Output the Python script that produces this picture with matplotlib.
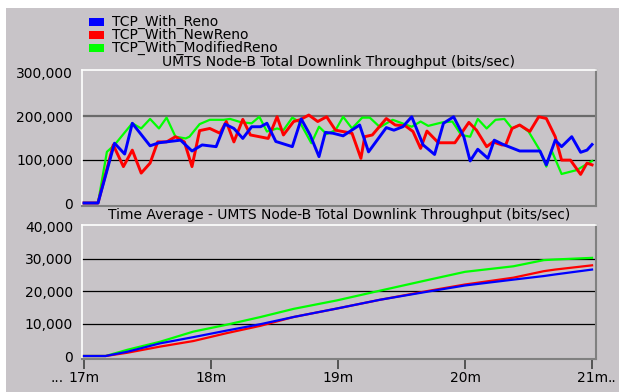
import matplotlib
matplotlib.use("Agg")
import matplotlib.pyplot as plt
from matplotlib.patches import Rectangle
from matplotlib.ticker import FuncFormatter

# series names and colours
names = ["TCP_With_Reno", "TCP_With_NewReno", "TCP_With_ModifiedReno"]
colors = ["#0000ff", "#ff0000", "#00ff00"]

# upper panel: throughput (bits/sec), time in minutes
reno_t = [17.00, 17.11, 17.24, 17.32, 17.38, 17.52, 17.59, 17.76, 17.85, 17.93,
          18.04, 18.11, 18.18, 18.25, 18.32, 18.39, 18.44, 18.51, 18.64, 18.71,
          18.78, 18.85, 18.90, 18.96, 19.04, 19.17, 19.24, 19.38, 19.44, 19.51,
          19.58, 19.67, 19.76, 19.83, 19.91, 19.99, 20.04, 20.10, 20.18, 20.23,
          20.30, 20.43, 20.59, 20.64, 20.71, 20.76, 20.84, 20.91, 20.96, 21.00]
reno_v = [0, 0, 138000, 113000, 184000, 132000, 139000, 145000, 120000, 134000,
          130000, 182000, 172000, 149000, 176000, 176000, 184000, 142000, 130000, 194000,
          157000, 107000, 163000, 161000, 155000, 180000, 118000, 174000, 168000, 176000,
          199000, 134000, 112000, 184000, 199000, 153000, 97000, 124000, 103000, 145000,
          135000, 120000, 120000, 88000, 145000, 130000, 153000, 117000, 122000, 135000]

newreno_t = [17.00, 17.11, 17.23, 17.31, 17.38, 17.45, 17.52, 17.58, 17.65, 17.72,
             17.79, 17.85, 17.91, 17.99, 18.07, 18.12, 18.18, 18.25, 18.31, 18.45,
             18.52, 18.57, 18.65, 18.70, 18.77, 18.84, 18.91, 18.98, 19.11, 19.18,
             19.21, 19.27, 19.38, 19.45, 19.53, 19.59, 19.65, 19.70, 19.79, 19.92,
             20.03, 20.09, 20.17, 20.22, 20.29, 20.32, 20.37, 20.43, 20.51, 20.58,
             20.64, 20.71, 20.76, 20.83, 20.91, 20.96, 21.00]
newreno_v = [0, 0, 134000, 84000, 122000, 69000, 92000, 141000, 141000, 153000,
             141000, 84000, 167000, 172000, 161000, 188000, 141000, 193000, 157000, 149000,
             199000, 157000, 188000, 192000, 203000, 188000, 199000, 168000, 161000, 103000,
             153000, 157000, 195000, 180000, 178000, 165000, 126000, 166000, 139000, 139000,
             186000, 168000, 130000, 141000, 134000, 134000, 172000, 180000, 165000, 199000,
             195000, 153000, 99000, 99000, 66000, 92000, 88000]

modreno_t = [17.00, 17.11, 17.18, 17.24, 17.38, 17.45, 17.52, 17.59, 17.65, 17.72,
             17.80, 17.83, 17.91, 17.99, 18.10, 18.15, 18.24, 18.32, 18.38, 18.44,
             18.52, 18.57, 18.64, 18.70, 18.79, 18.85, 18.91, 18.98, 19.04, 19.11,
             19.19, 19.25, 19.33, 19.43, 19.58, 19.65, 19.71, 19.82, 19.90, 19.97,
             20.04, 20.10, 20.17, 20.24, 20.31, 20.37, 20.43, 20.50, 20.58, 20.64,
             20.68, 20.76, 20.88, 21.00]
modreno_v = [0, 0, 118000, 134000, 184000, 172000, 194000, 172000, 197000, 153000,
             149000, 153000, 182000, 192000, 192000, 194000, 186000, 184000, 199000, 165000,
             172000, 168000, 197000, 186000, 138000, 176000, 159000, 168000, 199000, 172000,
             197000, 197000, 175000, 192000, 176000, 188000, 178000, 186000, 188000, 157000,
             153000, 194000, 172000, 192000, 194000, 172000, 180000, 165000, 126000, 84000,
             122000, 67000, 76000, 97000]

# lower panel: time average throughput (bits/sec)
avg_t = [17.00, 17.17, 17.34, 17.60, 17.86, 18.12, 18.39, 18.65, 18.99, 19.33,
         19.72, 20.00, 20.38, 20.62, 20.71, 21.00]
reno_avg = [0, 0, 1300, 3900, 5800, 7800, 9800, 12000, 14600, 17300,
            19900, 21700, 23500, 24600, 25100, 26600]
newreno_avg = [0, 0, 1000, 2900, 4600, 7000, 9300, 12000, 14600, 17300,
               20100, 22000, 24100, 26100, 26600, 27900]
modreno_avg = [0, 0, 1900, 4400, 7500, 9600, 12000, 14500, 17100, 20100,
               23500, 25900, 27600, 29500, 29700, 30200]

top_title = "UMTS Node-B Total Downlink Throughput (bits/sec)"
bottom_title = "Time Average - UMTS Node-B Total Downlink Throughput (bits/sec)"
x_ticks = [17, 18, 19, 20, 21]
x_labels = ["17m", "18m", "19m", "20m", "21m"]

BG = "#c8c4c8"
FS = 10
W, H = 619, 392

fig = plt.figure(figsize=(W / 100, H / 100), dpi=100, facecolor="white")
fig.patches.append(Rectangle((6 / W, 0), 1, (H - 8) / H, transform=fig.transFigure,
                             facecolor=BG, edgecolor="none", zorder=-10))


def style_axes(ax):
    ax.set_facecolor(BG)
    for side in ("left", "top"):
        ax.spines[side].set_color("white")
        ax.spines[side].set_linewidth(1.2)
    for side in ("right", "bottom"):
        ax.spines[side].set_color("#808080")
        ax.spines[side].set_linewidth(1.5)
    ax.tick_params(axis="y", length=0, pad=6.5, labelsize=FS, colors="black")
    ax.yaxis.set_major_formatter(FuncFormatter(lambda v, p: f"{v:,.0f}"))
    ax.set_xlim(16.984, 21.031)


ax1 = fig.add_axes([82 / W, (H - 206) / H, 514 / W, 136 / H])
style_axes(ax1)
ax1.set_ylim(-6923, 306923)
ax1.set_yticks([0, 100000, 200000, 300000])
ax1.set_xticks([])
ax1.axhline(200000, color="#6a6a6a", lw=1.6, zorder=1)
ax1.axhline(100000, color="black", lw=0.9, zorder=1)
ax1.plot(modreno_t, modreno_v, color=colors[2], lw=1.6, zorder=3)
ax1.plot(newreno_t, newreno_v, color=colors[1], lw=2.1, zorder=4)
ax1.plot(reno_t, reno_v, color=colors[0], lw=2.1, zorder=5)

ax2 = fig.add_axes([82 / W, (H - 359) / H, 514 / W, 134 / H])
style_axes(ax2)
ax2.set_ylim(-923, 40308)
ax2.set_yticks([0, 10000, 20000, 30000, 40000])
for g in (10000, 20000, 30000):
    ax2.axhline(g, color="black", lw=0.9, zorder=1)
ax2.plot(avg_t, modreno_avg, color=colors[2], lw=1.6, zorder=3)
ax2.plot(avg_t, newreno_avg, color=colors[1], lw=1.6, zorder=4)
ax2.plot(avg_t, reno_avg, color=colors[0], lw=1.6, zorder=5)
ax2.set_xticks(x_ticks)
ax2.set_xticklabels(x_labels)
ax2.tick_params(axis="x", direction="out", length=7.5, width=1.2, color="#404040",
                pad=1.5, labelsize=FS)
ax2.annotate("...", xy=(17, 0), xycoords=("data", "axes fraction"),
             xytext=(-15, -9), textcoords="offset points", ha="right", va="top",
             fontsize=FS)
ax2.annotate("..", xy=(21, 0), xycoords=("data", "axes fraction"),
             xytext=(11, -9), textcoords="offset points", ha="left", va="top",
             fontsize=FS)

# panel titles
fig.text(339 / W, (H - 62) / H, top_title, fontsize=FS, ha="center", va="center")
fig.text(339 / W, (H - 215) / H, bottom_title, fontsize=FS, ha="center", va="center")

# legend drawn by hand at top left
for i, (name, c) in enumerate(zip(names, colors)):
    yc = 22 + 13 * i
    fig.patches.append(Rectangle((89 / W, (H - yc - 4) / H), 15 / W, 8 / H,
                                 transform=fig.transFigure, facecolor=c,
                                 edgecolor="none"))
    fig.text(112 / W, (H - yc) / H, name, fontsize=FS, va="center", ha="left")

fig.savefig("out.png", dpi=100, facecolor=fig.get_facecolor())
